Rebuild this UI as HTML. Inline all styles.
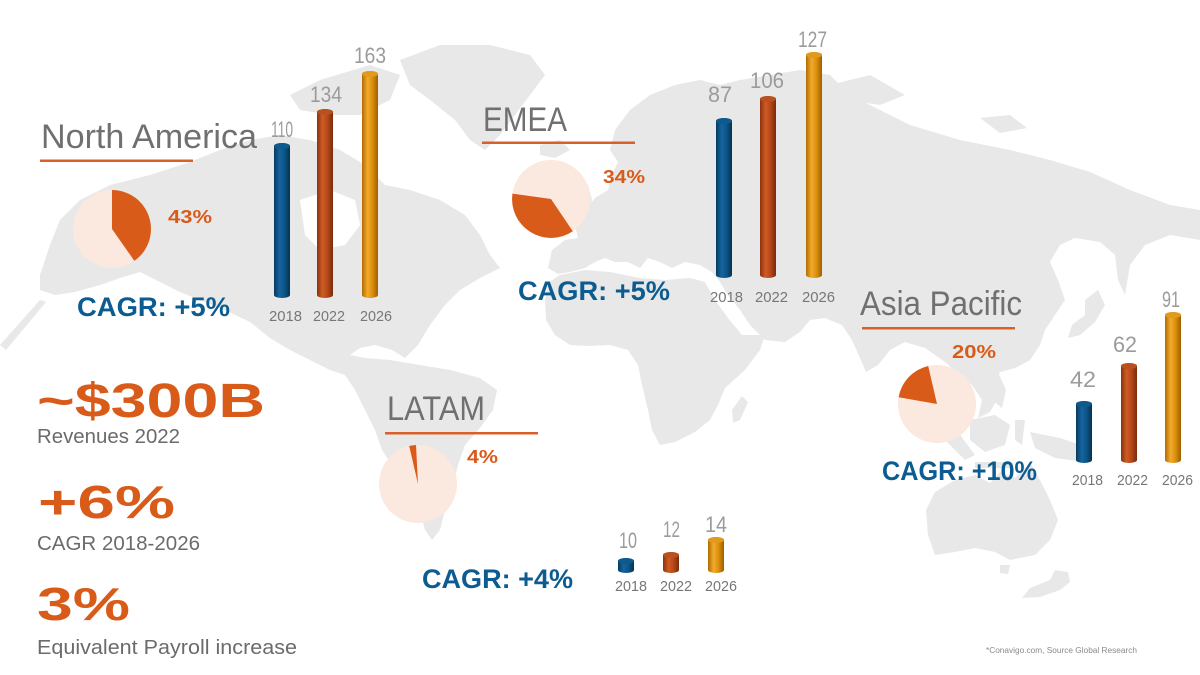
<!DOCTYPE html>
<html>
<head>
<meta charset="utf-8">
<style>
  html,body{margin:0;padding:0;background:#fff;}
  svg{display:block;}
  text{font-family:"Liberation Sans","DejaVu Sans",sans-serif;}
</style>
</head>
<body>
<svg width="1200" height="675" viewBox="0 0 1200 675" xmlns="http://www.w3.org/2000/svg">
  <defs>
    <linearGradient id="gb" x1="0" x2="1" y1="0" y2="0">
      <stop offset="0" stop-color="#073a5e"/>
      <stop offset="0.35" stop-color="#1565a0"/>
      <stop offset="0.65" stop-color="#0d5587"/>
      <stop offset="1" stop-color="#06324f"/>
    </linearGradient>
    <linearGradient id="go" x1="0" x2="1" y1="0" y2="0">
      <stop offset="0" stop-color="#8a320f"/>
      <stop offset="0.35" stop-color="#cf5c24"/>
      <stop offset="0.65" stop-color="#b5481a"/>
      <stop offset="1" stop-color="#7a2b0b"/>
    </linearGradient>
    <linearGradient id="gg" x1="0" x2="1" y1="0" y2="0">
      <stop offset="0" stop-color="#b06c00"/>
      <stop offset="0.35" stop-color="#f2aa2e"/>
      <stop offset="0.65" stop-color="#db8f0c"/>
      <stop offset="1" stop-color="#a06000"/>
    </linearGradient>
  </defs>

  <rect width="1200" height="675" fill="#ffffff"/>

  <!-- World map -->
  <g fill="#e8e8e8">
    <!-- Americas -->
    <path d="M40,275 L50,245 L60,220 L80,200 L110,185 L150,175 L190,162 L220,150 L250,140 L280,135 L310,140 L340,150 L365,165 L385,185 L410,190 L440,200 L465,215 L480,235 L490,255 L500,268 L480,278 L460,290 L445,305 L430,325 L418,345 L405,358 L392,350 L375,345 L360,348 L350,355 L365,358 L390,360 L420,365 L450,370 L480,378 L497,390 L493,410 L480,428 L465,445 L458,465 L452,490 L445,510 L440,530 L432,540 L425,530 L420,510 L410,490 L395,470 L382,450 L375,430 L365,410 L355,390 L345,375 L330,370 L310,360 L290,350 L270,338 L250,322 L225,310 L200,300 L180,292 L160,282 L140,272 L120,278 L100,285 L75,292 L55,295 L40,290 Z"/>
    <!-- Aleutians streak -->
    <path d="M0,345 L40,300 L46,302 L6,350 Z"/>
    <!-- Arctic islands -->
    <path d="M290,95 L320,80 L370,65 L400,75 L390,100 L360,115 L330,115 L300,110 Z"/>
    <!-- Greenland -->
    <path d="M400,60 L440,45 L490,45 L530,55 L545,75 L530,95 L515,115 L500,135 L485,150 L470,140 L455,120 L430,100 L410,85 Z"/>
    <!-- Iceland -->
    <path d="M540,145 L560,140 L570,150 L555,158 L540,155 Z"/>
    <!-- Britain -->
    <path d="M572,195 L580,180 L588,185 L592,200 L585,215 L575,215 Z"/>
    <!-- Eurasia -->
    <path d="M548,268 L552,250 L565,240 L578,238 L575,225 L585,210 L595,198 L608,190 L612,175 L618,162 L610,150 L615,130 L630,110 L650,95 L675,85 L700,80 L720,85 L740,80 L770,75 L800,70 L830,75 L850,95 L880,110 L910,125 L960,140 L1010,150 L1050,160 L1090,172 L1130,190 L1170,205 L1200,210 L1200,240 L1170,235 L1145,245 L1130,265 L1125,295 L1118,280 L1115,255 L1100,242 L1075,238 L1060,245 L1050,262 L1058,280 L1065,300 L1055,315 L1045,330 L1040,345 L1030,360 L1015,368 L1000,372 L995,382 L998,398 L990,412 L978,418 L982,400 L972,385 L960,375 L945,362 L925,348 L905,342 L890,350 L878,365 L866,372 L860,358 L852,340 L842,325 L825,318 L810,320 L800,332 L785,342 L765,340 L750,325 L740,310 L728,295 L720,282 L712,272 L700,265 L685,262 L672,268 L660,262 L648,258 L640,268 L628,262 L615,262 L605,258 L595,262 L585,268 L570,272 L558,274 Z"/>
    <!-- Novaya Zemlya -->
    <path d="M830,85 L870,75 L905,95 L880,105 L845,100 Z"/>
    <path d="M980,118 L1010,115 L1027,128 L1000,133 Z"/>
    <!-- Africa -->
    <path d="M545,300 L548,283 L560,275 L585,270 L610,272 L640,278 L665,280 L690,278 L705,282 L715,300 L728,318 L742,335 L765,335 L760,350 L745,370 L725,388 L718,405 L710,420 L695,432 L675,442 L660,445 L652,430 L648,410 L642,385 L638,365 L628,350 L610,345 L590,346 L570,345 L555,335 L546,320 Z"/>
    <!-- Madagascar -->
    <path d="M742,396 L748,402 L740,420 L733,423 L732,410 Z"/>
    <!-- Japan -->
    <path d="M1085,300 L1098,290 L1105,305 L1095,322 L1080,335 L1068,338 L1072,325 L1085,315 Z"/>
    <!-- SE Asia islands -->
    <path d="M988,373 L998,372 L1006,390 L1002,408 L992,400 Z"/>
    <path d="M970,420 L995,415 L1010,425 L1005,445 L985,452 L970,440 Z"/>
    <path d="M940,420 L955,428 L975,455 L965,460 L945,440 Z"/>
    <path d="M975,462 L1010,462 L1010,468 L975,468 Z"/>
    <path d="M1030,432 L1060,438 L1090,448 L1085,462 L1055,458 L1035,448 Z"/>
    <path d="M1015,420 L1025,420 L1022,445 L1015,440 Z"/>
    <!-- Australia -->
    <path d="M935,492 L955,480 L975,475 L990,483 L1000,472 L1015,478 L1030,462 L1040,480 L1050,500 L1058,520 L1050,540 L1035,555 L1010,560 L995,552 L975,548 L955,552 L935,555 L928,535 L926,510 Z"/>
    <path d="M1000,565 L1010,565 L1008,574 L1000,573 Z"/>
    <!-- New Zealand -->
    <path d="M1055,570 L1068,572 L1070,582 L1060,590 L1040,597 L1022,598 L1030,588 L1050,580 Z"/>
  </g>
  <!-- Hudson Bay -->
  <path d="M300,200 L330,190 L355,200 L360,225 L345,245 L320,250 L305,235 Z" fill="#ffffff"/>

  <!-- ============ North America ============ -->
  <text x="41" y="148" font-size="34" fill="#707070" textLength="216" lengthAdjust="spacingAndGlyphs">North America</text>
  <rect x="40" y="159.5" width="153" height="2.5" fill="#d9602a"/>
  <circle cx="112" cy="229" r="39" fill="#fbe8de"/>
  <path d="M112,229 L112,190 A39,39 0 0 1 134.4,260.9 Z" fill="#d95b1a"/>
  <text x="168" y="223" font-size="18" font-weight="bold" fill="#d95b1a" textLength="44" lengthAdjust="spacingAndGlyphs">43%</text>
  <text x="77" y="316" font-size="27" font-weight="bold" fill="#0d5c91" textLength="153" lengthAdjust="spacingAndGlyphs">CAGR: +5%</text>

  <g>
    <path d="M274,146 A8,3 0 0 1 290,146 L290,295 A8,3 0 0 1 274,295 Z" fill="url(#gb)"/>
    <ellipse cx="282" cy="146" rx="8" ry="3" fill="#0f5a8c"/>
    <path d="M317,112 A8,3 0 0 1 333,112 L333,295 A8,3 0 0 1 317,295 Z" fill="url(#go)"/>
    <ellipse cx="325" cy="112" rx="8" ry="3" fill="#b9501f"/>
    <path d="M362,74 A8,3 0 0 1 378,74 L378,295 A8,3 0 0 1 362,295 Z" fill="url(#gg)"/>
    <ellipse cx="370" cy="74" rx="8" ry="3" fill="#e09a1c"/>
  </g>
  <g font-size="22" fill="#9b9b9b">
    <text x="271" y="137" textLength="22" lengthAdjust="spacingAndGlyphs">110</text>
    <text x="310" y="102" textLength="32" lengthAdjust="spacingAndGlyphs">134</text>
    <text x="354" y="63" textLength="32" lengthAdjust="spacingAndGlyphs">163</text>
  </g>
  <g font-size="15" fill="#777777">
    <text x="269" y="321" textLength="33" lengthAdjust="spacingAndGlyphs">2018</text>
    <text x="313" y="321" textLength="32" lengthAdjust="spacingAndGlyphs">2022</text>
    <text x="360" y="321" textLength="32" lengthAdjust="spacingAndGlyphs">2026</text>
  </g>

  <!-- ============ EMEA ============ -->
  <text x="483" y="131" font-size="34" fill="#707070" textLength="84" lengthAdjust="spacingAndGlyphs">EMEA</text>
  <rect x="482" y="141.5" width="153" height="2.5" fill="#d9602a"/>
  <circle cx="551" cy="199" r="39" fill="#fbe8de"/>
  <path d="M551,199 L572.8,231.3 A39,39 0 0 1 512.4,193.6 Z" fill="#d95b1a"/>
  <text x="603" y="183" font-size="18" font-weight="bold" fill="#d95b1a" textLength="42" lengthAdjust="spacingAndGlyphs">34%</text>
  <text x="518" y="300" font-size="27" font-weight="bold" fill="#0d5c91" textLength="152" lengthAdjust="spacingAndGlyphs">CAGR: +5%</text>

  <g>
    <path d="M716,121 A8,3 0 0 1 732,121 L732,275 A8,3 0 0 1 716,275 Z" fill="url(#gb)"/>
    <ellipse cx="724" cy="121" rx="8" ry="3" fill="#0f5a8c"/>
    <path d="M760,99 A8,3 0 0 1 776,99 L776,275 A8,3 0 0 1 760,275 Z" fill="url(#go)"/>
    <ellipse cx="768" cy="99" rx="8" ry="3" fill="#b9501f"/>
    <path d="M806,55 A8,3 0 0 1 822,55 L822,275 A8,3 0 0 1 806,275 Z" fill="url(#gg)"/>
    <ellipse cx="814" cy="55" rx="8" ry="3" fill="#e09a1c"/>
  </g>
  <g font-size="22" fill="#9b9b9b">
    <text x="708" y="102" textLength="24" lengthAdjust="spacingAndGlyphs">87</text>
    <text x="750" y="88" textLength="34" lengthAdjust="spacingAndGlyphs">106</text>
    <text x="798" y="47" textLength="29" lengthAdjust="spacingAndGlyphs">127</text>
  </g>
  <g font-size="15" fill="#777777">
    <text x="710" y="302" textLength="33" lengthAdjust="spacingAndGlyphs">2018</text>
    <text x="755" y="302" textLength="33" lengthAdjust="spacingAndGlyphs">2022</text>
    <text x="802" y="302" textLength="33" lengthAdjust="spacingAndGlyphs">2026</text>
  </g>

  <!-- ============ Asia Pacific ============ -->
  <text x="860" y="315" font-size="34" fill="#707070" textLength="162" lengthAdjust="spacingAndGlyphs">Asia Pacific</text>
  <rect x="862" y="327" width="153" height="2.5" fill="#d9602a"/>
  <circle cx="937" cy="404" r="39" fill="#fbe8de"/>
  <path d="M937,404 L898.6,397.2 A39,39 0 0 1 928.2,366 Z" fill="#d95b1a"/>
  <text x="952" y="358" font-size="18" font-weight="bold" fill="#d95b1a" textLength="44" lengthAdjust="spacingAndGlyphs">20%</text>
  <text x="882" y="480" font-size="27" font-weight="bold" fill="#0d5c91" textLength="155" lengthAdjust="spacingAndGlyphs">CAGR: +10%</text>

  <g>
    <path d="M1076,404 A8,3 0 0 1 1092,404 L1092,460 A8,3 0 0 1 1076,460 Z" fill="url(#gb)"/>
    <ellipse cx="1084" cy="404" rx="8" ry="3" fill="#0f5a8c"/>
    <path d="M1121,366 A8,3 0 0 1 1137,366 L1137,460 A8,3 0 0 1 1121,460 Z" fill="url(#go)"/>
    <ellipse cx="1129" cy="366" rx="8" ry="3" fill="#b9501f"/>
    <path d="M1165,315 A8,3 0 0 1 1181,315 L1181,460 A8,3 0 0 1 1165,460 Z" fill="url(#gg)"/>
    <ellipse cx="1173" cy="315" rx="8" ry="3" fill="#e09a1c"/>
  </g>
  <g font-size="22" fill="#9b9b9b">
    <text x="1070" y="387" textLength="26" lengthAdjust="spacingAndGlyphs">42</text>
    <text x="1113" y="352" textLength="24" lengthAdjust="spacingAndGlyphs">62</text>
    <text x="1162" y="307" textLength="18" lengthAdjust="spacingAndGlyphs">91</text>
  </g>
  <g font-size="15" fill="#777777">
    <text x="1072" y="485" textLength="31" lengthAdjust="spacingAndGlyphs">2018</text>
    <text x="1117" y="485" textLength="31" lengthAdjust="spacingAndGlyphs">2022</text>
    <text x="1162" y="485" textLength="31" lengthAdjust="spacingAndGlyphs">2026</text>
  </g>

  <!-- ============ LATAM ============ -->
  <text x="387" y="420" font-size="34" fill="#707070" textLength="98" lengthAdjust="spacingAndGlyphs">LATAM</text>
  <rect x="385" y="432" width="153" height="2.5" fill="#d9602a"/>
  <circle cx="418" cy="484" r="39" fill="#fbe8de"/>
  <path d="M418,484 L409.2,446 A39,39 0 0 1 416,445.05 Z" fill="#d95b1a"/>
  <text x="467" y="463" font-size="18" font-weight="bold" fill="#d95b1a" textLength="31" lengthAdjust="spacingAndGlyphs">4%</text>
  <text x="422" y="588" font-size="27" font-weight="bold" fill="#0d5c91" textLength="151" lengthAdjust="spacingAndGlyphs">CAGR: +4%</text>

  <g>
    <path d="M618,561 A8,3 0 0 1 634,561 L634,570 A8,3 0 0 1 618,570 Z" fill="url(#gb)"/>
    <ellipse cx="626" cy="561" rx="8" ry="3" fill="#0f5a8c"/>
    <path d="M663,555 A8,3 0 0 1 679,555 L679,570 A8,3 0 0 1 663,570 Z" fill="url(#go)"/>
    <ellipse cx="671" cy="555" rx="8" ry="3" fill="#b9501f"/>
    <path d="M708,540 A8,3 0 0 1 724,540 L724,570 A8,3 0 0 1 708,570 Z" fill="url(#gg)"/>
    <ellipse cx="716" cy="540" rx="8" ry="3" fill="#e09a1c"/>
  </g>
  <g font-size="22" fill="#9b9b9b">
    <text x="619" y="548" textLength="18" lengthAdjust="spacingAndGlyphs">10</text>
    <text x="663" y="537" textLength="17" lengthAdjust="spacingAndGlyphs">12</text>
    <text x="705" y="532" textLength="22" lengthAdjust="spacingAndGlyphs">14</text>
  </g>
  <g font-size="15" fill="#777777">
    <text x="615" y="591" textLength="32" lengthAdjust="spacingAndGlyphs">2018</text>
    <text x="660" y="591" textLength="32" lengthAdjust="spacingAndGlyphs">2022</text>
    <text x="705" y="591" textLength="32" lengthAdjust="spacingAndGlyphs">2026</text>
  </g>

  <!-- ============ Left stats ============ -->
  <text x="37" y="417" font-size="48" font-weight="bold" fill="#d95b1a" textLength="228" lengthAdjust="spacingAndGlyphs">~$300B</text>
  <text x="37" y="443" font-size="20" fill="#6b6b6b" textLength="143" lengthAdjust="spacingAndGlyphs">Revenues 2022</text>
  <text x="38" y="518" font-size="46" font-weight="bold" fill="#d95b1a" textLength="137" lengthAdjust="spacingAndGlyphs">+6%</text>
  <text x="37" y="550" font-size="20" fill="#6b6b6b" textLength="163" lengthAdjust="spacingAndGlyphs">CAGR 2018-2026</text>
  <text x="37" y="620" font-size="46" font-weight="bold" fill="#d95b1a" textLength="93" lengthAdjust="spacingAndGlyphs">3%</text>
  <text x="37" y="654" font-size="20" fill="#6b6b6b" textLength="260" lengthAdjust="spacingAndGlyphs">Equivalent Payroll increase</text>

  <!-- Footnote -->
  <text x="986" y="653" font-size="8" fill="#8a8a8a" textLength="151" lengthAdjust="spacingAndGlyphs">*Conavigo.com, Source Global Research</text>
</svg>
</body>
</html>
